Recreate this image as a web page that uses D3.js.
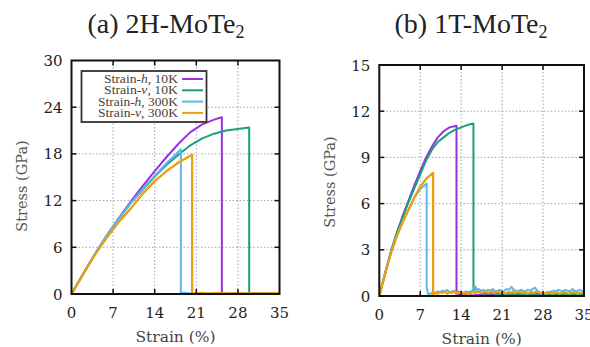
<!DOCTYPE html>
<html>
<head>
<meta charset="utf-8">
<script src="https://cdn.jsdelivr.net/npm/d3@7"></script>
<style>
  html, body { margin: 0; padding: 0; background: #fff; }
  svg { display: block; }
</style>
</head>
<body>
<svg id="chart" width="590" height="347"></svg>
<script>
// ---- tick labels ----
const strainTicks = [0, 7, 14, 21, 28, 35];
const stressTicks2H = [0, 6, 12, 18, 24, 30];
const stressTicks1T = [0, 3, 6, 9, 12, 15];

// ---- legend entries: [direction letter, temperature] ----
const seriesLabels = [["h", "10K"], ["v", "10K"], ["h", "300K"], ["v", "300K"]];
const seriesColors = ["#9a2fe0", "#18a07a", "#5db8ea", "#e8a012"];

// ---- 2H-MoTe2 stress-strain curves [strain %, stress GPa] ----
const h10K_2H = [[0,0],[2,2.65],[4,5.2],[6,7.6],[8,9.8],[10,11.9],[12,13.9],[14,15.8],[16,17.6],
  [18,19.3],[20,20.8],[22,21.8],[24,22.4],[25.3,22.7],[25.3,0.05],[35,0.05]];
const v10K_2H = [[0,0],[2,2.6],[4,5.2],[6,7.5],[8,9.7],[10,11.7],[12,13.4],[14,15.1],[16,16.6],
  [18,17.9],[20,19.1],[22,20.0],[24,20.6],[26,21.0],[28,21.2],[29.9,21.4],[29.9,0.05],[35,0.05]];
const h300K_2H = [[0,0],[2,2.6],[4,5.2],[6,7.6],[8,9.7],[10,11.7],[12,13.5],[14,15.2],[16,16.8],
  [18.4,18.6],[18.4,0.1],[19,0.15],[20,0.05],[35,0.05]];
const v300K_2H = [[0,0],[2,2.6],[4,5.1],[6,7.3],[8,9.3],[10,11.0],[12,12.9],[14,14.5],[16,15.8],
  [18,16.9],[20.3,17.9],[20.3,0.05],[22,0.15],[23,0.05],[25,0.15],[26,0.05],[28,0.15],[29,0.05],
  [31,0.12],[32,0.05],[34,0.12],[35,0.08]];

// ---- 1T-MoTe2 stress-strain curves [strain %, stress GPa] ----
const h10K_1T = [[0,0],[1,1.5],[2,2.9],[3,4.1],[4,5.2],[5,6.2],[6,7.2],[7,8.1],[8,9.0],[9,9.7],
  [10,10.3],[11,10.7],[12,10.95],[13.2,11.06],[13.2,0.1],[14,0.05],[15,0.1],[16,0.04],[17,0.08],
  [18,0.05],[19,0.1],[20,0.04],[21,0.08],[22,0.05],[23,0.1],[24,0.04],[25,0.08],[26,0.05],[27,0.1],
  [28,0.04],[29,0.08],[30,0.05],[31,0.1],[32,0.04],[33,0.08],[34,0.05],[35,0.08]];
const v10K_1T = [[0,0],[1,1.5],[2,2.9],[3,4.1],[4,5.1],[5,6.1],[6,7.0],[7,7.9],[8,8.8],[9,9.5],
  [10,10.0],[11,10.3],[12,10.6],[13,10.8],[14,10.95],[15,11.1],[16.1,11.2],[16.1,0.3],[16.4,0.6],
  [16.7,0.3],[17.5,0.2],[18.5,0.15],[19.5,0.2],[20.5,0.12],[21.5,0.18],[22.5,0.1],[23.5,0.15],
  [24.5,0.1],[25.5,0.15],[26.5,0.12],[27.5,0.18],[28.5,0.1],[29.5,0.15],[30.5,0.1],[31.5,0.15],
  [32.5,0.12],[33.5,0.15],[35,0.1]];
const h300K_1T = [[0,0],[1,1.45],[2,2.8],[3,3.9],[4,4.8],[5,5.6],[6,6.4],[7,6.95],[8.1,7.3],
  [8.1,0.5],[8.4,0.1],[8.8,0.15],[9.2,0.25],[9.6,0.2],[10,0.3],[10.4,0.25],[10.8,0.35],[11.2,0.3],
  [11.6,0.4],[12,0.25],[12.4,0.3],[12.8,0.35],[13.2,0.2],[13.6,0.3],[14,0.25],[14.4,0.2],[14.8,0.3],
  [15.2,0.25],[15.6,0.3],[16,0.35],[16.3,0.65],[16.6,0.4],[17,0.45],[17.4,0.35],[17.8,0.4],[18.2,0.3],
  [18.6,0.4],[19,0.35],[19.4,0.45],[19.8,0.3],[20.2,0.35],[20.6,0.4],[21,0.3],[21.4,0.35],[21.8,0.45],
  [22.2,0.4],[22.6,0.6],[23,0.4],[23.4,0.35],[23.8,0.3],[24.2,0.4],[24.6,0.35],[25,0.3],[25.4,0.4],
  [25.8,0.35],[26.2,0.45],[26.6,0.55],[27,0.35],[27.4,0.2],[27.8,0.15],[28.2,0.2],[28.6,0.15],
  [29,0.25],[29.4,0.3],[29.8,0.35],[30.2,0.3],[30.6,0.4],[31,0.35],[31.4,0.3],[31.8,0.4],[32.2,0.35],
  [32.6,0.3],[33,0.45],[33.4,0.35],[33.8,0.3],[34.2,0.4],[34.6,0.35],[35,0.3]];
const v300K_1T = [[0,0],[1,1.45],[2,2.8],[3,3.9],[4,4.8],[5,5.6],[6,6.4],[7,7.1],[8,7.6],[9.2,8.0],
  [9.2,0.1],[9.6,0.2],[10,0.15],[10.4,0.25],[10.8,0.2],[11.2,0.3],[11.6,0.15],[12,0.25],[12.4,0.2],
  [12.8,0.3],[13.2,0.15],[13.6,0.2],[14,0.25],[14.4,0.15],[14.8,0.2],[15.2,0.1],[15.6,0.2],[16,0.25],
  [16.4,0.2],[16.8,0.3],[17.2,0.25],[17.6,0.2],[18,0.3],[18.4,0.25],[18.8,0.2],[19.2,0.3],[19.6,0.2],
  [20,0.25],[20.4,0.3],[20.8,0.2],[21.2,0.25],[21.6,0.15],[22,0.25],[22.4,0.2],[22.8,0.3],[23.2,0.2],
  [23.6,0.25],[24,0.3],[24.4,0.2],[24.8,0.25],[25.2,0.15],[25.6,0.2],[26,0.25],[26.4,0.2],[26.8,0.3],
  [27.2,0.25],[27.6,0.2],[28,0.15],[28.4,0.2],[28.8,0.25],[29.2,0.2],[29.6,0.15],[30,0.2],[30.4,0.25],
  [30.8,0.15],[31.2,0.2],[31.6,0.25],[32,0.2],[32.4,0.15],[32.8,0.2],[33.2,0.25],[33.6,0.2],[34,0.15],
  [34.4,0.2],[34.8,0.25],[35,0.2]];

const svg = d3.select("#chart");
const TITLE_FONT = "'Liberation Serif', serif";
const LABEL_FONT = "'DejaVu Serif', serif";

function drawPanel(opt) {
  const x = d3.scaleLinear().domain([0, 35]).range([opt.left, opt.right]);
  const y = d3.scaleLinear().domain([0, opt.yMax]).range([opt.bottom, opt.top]);
  const g = svg.append("g");
  const clipId = "clip-" + opt.id;
  g.append("clipPath").attr("id", clipId).append("rect")
    .attr("x", opt.left).attr("y", opt.top)
    .attr("width", opt.right - opt.left).attr("height", opt.bottom - opt.top);

  // dotted grid
  const grid = g.append("g").attr("stroke", "#9a9a9a").attr("stroke-width", 0.9)
    .attr("stroke-dasharray", "1.5,2");
  grid.selectAll(".gx").data(strainTicks.slice(1, -1)).join("line")
    .attr("x1", d => x(d)).attr("x2", d => x(d)).attr("y1", opt.top).attr("y2", opt.bottom);
  grid.selectAll(".gy").data(opt.yTicks.slice(1, -1)).join("line")
    .attr("y1", d => y(d)).attr("y2", d => y(d)).attr("x1", opt.left).attr("x2", opt.right);

  // curves
  const line = d3.line().x(d => x(d[0])).y(d => y(d[1]));
  const curves = g.append("g").attr("clip-path", `url(#${clipId})`);
  opt.series.forEach((s, i) => {
    curves.append("path").datum(s).attr("d", line)
      .attr("fill", "none").attr("stroke", seriesColors[i])
      .attr("stroke-width", i === 3 ? 2.3 : 2).attr("stroke-linejoin", "round");
  });

  // frame
  g.append("rect").attr("x", opt.left).attr("y", opt.top)
    .attr("width", opt.right - opt.left).attr("height", opt.bottom - opt.top)
    .attr("fill", "none").attr("stroke", "#111").attr("stroke-width", 2);

  // inward ticks, mirrored on all sides
  const tk = g.append("g").attr("stroke", "#111").attr("stroke-width", 1.5);
  const tl = 5;
  strainTicks.slice(1, -1).forEach(v => {
    tk.append("line").attr("x1", x(v)).attr("x2", x(v)).attr("y1", opt.bottom).attr("y2", opt.bottom - tl);
    tk.append("line").attr("x1", x(v)).attr("x2", x(v)).attr("y1", opt.top).attr("y2", opt.top + tl);
  });
  opt.yTicks.slice(1, -1).forEach(v => {
    tk.append("line").attr("y1", y(v)).attr("y2", y(v)).attr("x1", opt.left).attr("x2", opt.left + tl);
    tk.append("line").attr("y1", y(v)).attr("y2", y(v)).attr("x1", opt.right).attr("x2", opt.right - tl);
  });

  // tick labels
  g.selectAll(".xl").data(strainTicks).join("text")
    .style("font-family", LABEL_FONT)
    .attr("x", d => x(d)).attr("y", opt.bottom + 24)
    .attr("text-anchor", "middle").attr("font-size", 15).attr("fill", "#222").text(d => d);
  g.selectAll(".yl").data(opt.yTicks).join("text")
    .style("font-family", LABEL_FONT)
    .attr("x", opt.left - 9).attr("y", d => y(d) + 5.5)
    .attr("text-anchor", "end").attr("font-size", 15).attr("fill", "#222").text(d => d);

  // axis titles
  g.append("text").style("font-family", LABEL_FONT).attr("x", (opt.left + opt.right) / 2).attr("y", opt.xLabelY)
    .attr("text-anchor", "middle").attr("font-size", 15.5).attr("fill", "#444").text("Strain (%)");
  g.append("text").style("font-family", LABEL_FONT)
    .attr("transform", `translate(${opt.yLabelX},${opt.yLabelCY}) rotate(-90)`)
    .attr("text-anchor", "middle").attr("font-size", 14.5).attr("fill", "#555").text("Stress (GPa)");

  // panel title with subscript
  const t = g.append("text").style("font-family", TITLE_FONT).attr("x", opt.titleX).attr("y", 33)
    .attr("text-anchor", "middle").attr("font-size", 28).attr("fill", "#222");
  t.append("tspan").text(opt.title);
  t.append("tspan").attr("font-size", 18).attr("dy", 5).text("2");

  return { g, x, y };
}

const left = drawPanel({
  id: "a", left: 71.5, right: 279.5, top: 60.5, bottom: 294, yMax: 30,
  yTicks: stressTicks2H, series: [h10K_2H, v10K_2H, h300K_2H, v300K_2H],
  title: "(a) 2H-MoTe", titleX: 166, xLabelY: 342, yLabelX: 27, yLabelCY: 186
});

drawPanel({
  id: "b", left: 379.3, right: 584, top: 65, bottom: 296, yMax: 15,
  yTicks: stressTicks1T, series: [h10K_1T, v10K_1T, h300K_1T, v300K_1T],
  title: "(b) 1T-MoTe", titleX: 471, xLabelY: 344, yLabelX: 335, yLabelCY: 182
});

// legend (2H panel)
const lg = left.g.append("g");
lg.append("rect").attr("x", 81.5).attr("y", 71).attr("width", 125).attr("height", 51)
  .attr("fill", "#fff").attr("stroke", "#333").attr("stroke-width", 1.8);
seriesLabels.forEach((s, i) => {
  const cy = 79 + i * 11.3;
  const txt = lg.append("text").style("font-family", TITLE_FONT)
    .attr("x", 178).attr("y", cy + 4).attr("text-anchor", "end")
    .attr("font-size", 11.5).attr("fill", "#4a4036")
    .attr("textLength", s[1] === "10K" ? 74 : 80).attr("lengthAdjust", "spacingAndGlyphs");
  txt.append("tspan").text("Strain-");
  txt.append("tspan").attr("font-style", "italic").text(s[0]);
  txt.append("tspan").text(", " + s[1]);
  lg.append("line").attr("x1", 182).attr("x2", 203).attr("y1", cy).attr("y2", cy)
    .attr("stroke", seriesColors[i]).attr("stroke-width", 2);
});
</script>
</body>
</html>
